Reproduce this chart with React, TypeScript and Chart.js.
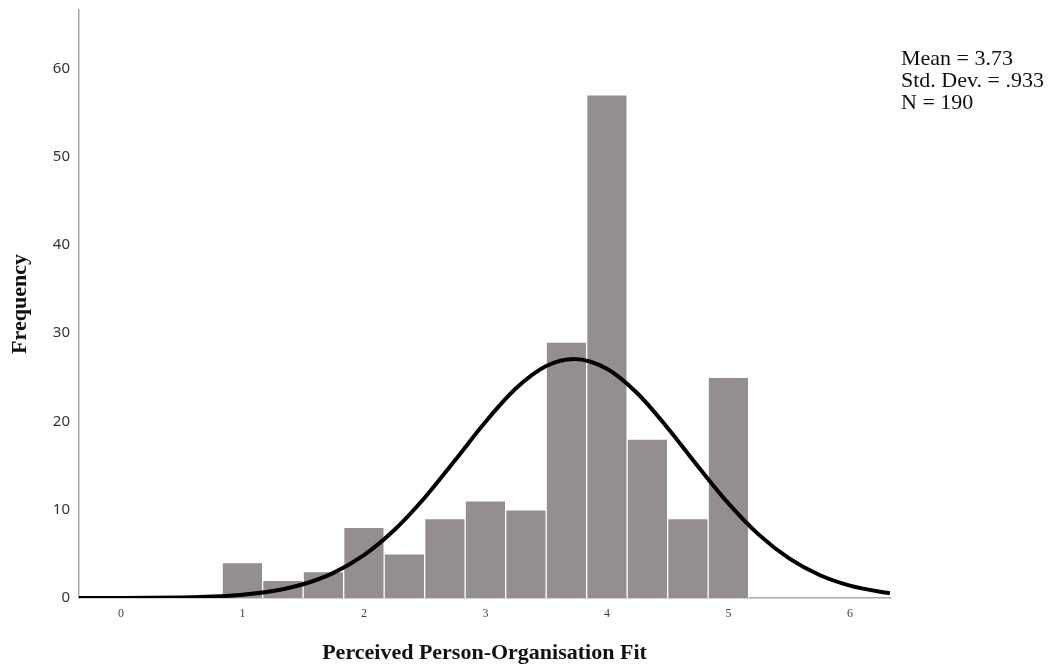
import React, { useEffect, useRef } from "react";
import { Chart, registerables } from "chart.js";

Chart.register(...registerables);

// Histogram bins (bin centres, width 1/3) and frequencies
const binCenters = [1.0, 1.3333, 1.6667, 2.0, 2.3333, 2.6667, 3.0, 3.3333, 3.6667, 4.0, 4.3333, 4.6667, 5.0];
const frequencies = [4, 2, 3, 8, 5, 9, 11, 10, 29, 57, 18, 9, 25];

// Normal curve (x, frequency)
const curveX = [-0.35, 0, 0.25, 0.5, 0.75, 1.0, 1.25, 1.5, 1.75, 2.0, 2.25, 2.5, 2.75, 3.0, 3.25, 3.5, 3.73, 4.0, 4.25, 4.5, 4.75, 5.0, 5.25, 5.5, 5.75, 6.0, 6.25, 6.33];
const curveY = [0.002, 0.009, 0.026, 0.068, 0.165, 0.374, 0.79, 1.56, 2.85, 4.85, 7.7, 11.36, 15.6, 19.94, 23.72, 26.27, 27.08, 25.97, 23.19, 19.26, 14.9, 10.72, 7.18, 4.48, 2.6, 1.4, 0.705, 0.557];

const xTicks = [0, 1, 2, 3, 4, 5, 6];
const yTicks = [0, 10, 20, 30, 40, 50, 60];

const statsLines = ["Mean = 3.73", "Std. Dev. = .933", "N = 190"];
const xTitle = "Perceived Person-Organisation Fit";
const yTitle = "Frequency";

const statsPlugin = {
  id: "statsText",
  afterDraw(chart: any) {
    const ctx = chart.ctx;
    ctx.save();
    ctx.fillStyle = "#111";
    ctx.font = "22px 'Liberation Serif', 'Times New Roman', serif";
    ctx.textAlign = "left";
    ctx.textBaseline = "alphabetic";
    statsLines.forEach((t, i) => {
      ctx.fillText(t, 901, 65 + i * 22);
    });
    ctx.restore();
  },
};

export default function App() {
  const ref = useRef<HTMLCanvasElement | null>(null);

  useEffect(() => {
    if (!ref.current) return;
    const chart = new Chart(ref.current, {
      type: "bar",
      data: {
        datasets: [
          {
            type: "line",
            data: curveX.map((x, i) => ({ x, y: curveY[i] })),
            borderColor: "#000",
            borderWidth: 4,
            pointRadius: 0,
            tension: 0.4,
            cubicInterpolationMode: "monotone",
            fill: false,
            order: 0,
          } as any,
          {
            type: "bar",
            data: binCenters.map((x, i) => ({ x, y: frequencies[i] })),
            backgroundColor: "#948f8e",
            borderColor: "#ffffff",
            borderWidth: 1,
            barPercentage: 1,
            categoryPercentage: 1,
            order: 1,
          } as any,
        ],
      },
      options: {
        responsive: false,
        animation: false,
        layout: { padding: { top: 10, right: 163, left: 0, bottom: 0 } },
        plugins: {
          legend: { display: false },
          tooltip: { enabled: false },
        },
        scales: {
          x: {
            type: "linear",
            min: -0.345,
            max: 6.33,
            offset: false,
            grid: { display: false, drawTicks: false, offset: false },
            border: { display: true, color: "#a8a8a8", width: 1.5 },
            afterBuildTicks: (s: any) => {
              s.ticks = xTicks.map((v) => ({ value: v }));
            },
            afterFit: (s: any) => {
              s.height = 70;
              s.paddingLeft = 0;
              s.paddingRight = 0;
            },
            ticks: {
              padding: 9,
              color: "#444",
              font: { family: "'Liberation Serif', serif", size: 12 },
              autoSkip: false,
              maxRotation: 0,
            },
            title: {
              display: true,
              text: xTitle,
              color: "#111",
              font: { family: "'Liberation Serif', serif", size: 22, weight: "bold" },
              padding: { top: 0, bottom: 1 },
            },
          },
          y: {
            type: "linear",
            min: 0,
            max: 66.6,
            grid: { display: false, drawTicks: false },
            border: { display: true, color: "#a8a8a8", width: 1.5 },
            afterBuildTicks: (s: any) => {
              s.ticks = yTicks.map((v) => ({ value: v }));
            },
            afterFit: (s: any) => {
              s.width = 79;
              s.paddingTop = 0;
              s.paddingBottom = 0;
            },
            ticks: {
              padding: 9,
              color: "#333",
              font: { family: "'Noto Sans', sans-serif", size: 15 },
            },
            title: {
              display: true,
              text: yTitle,
              color: "#111",
              font: { family: "'Liberation Serif', serif", size: 22, weight: "bold" },
              padding: { top: 7, bottom: 0 },
            },
          },
        },
      },
      plugins: [statsPlugin],
    });
    return () => chart.destroy();
  }, []);

  return (
    <div style={{ position: "absolute", left: 0, top: 0, width: 1053, height: 668, background: "#fff" }}>
      <canvas ref={ref} width={1053} height={668} style={{ display: "block" }} />
    </div>
  );
}
